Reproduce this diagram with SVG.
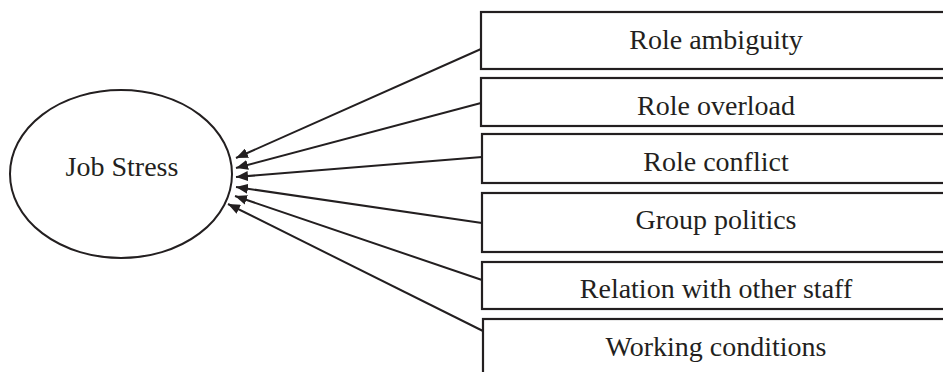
<svg xmlns="http://www.w3.org/2000/svg" width="943" height="372" viewBox="0 0 943 372">
<style>
.box{fill:#fff;stroke:#231f20;stroke-width:2.2}
.lbl{font-family:"Liberation Serif","Times New Roman",serif;font-size:28px;fill:#231f20;text-anchor:middle}
.con{stroke:#231f20;stroke-width:2;fill:none;marker-end:url(#ah)}
</style>
<defs>
<marker id="ah" viewBox="0 0 12 10" refX="12" refY="5" markerWidth="12" markerHeight="10" markerUnits="userSpaceOnUse" orient="auto">
<path d="M0,0 L12,5 L0,10 Z" fill="#231f20"/>
</marker>
</defs>
<rect width="943" height="372" fill="#fff"/>
<g id="job-stress">
<ellipse cx="121" cy="174" rx="111" ry="84" fill="#fff" stroke="#231f20" stroke-width="2"/>
<text class="lbl" x="122" y="176">Job Stress</text>
</g>
<g id="role-ambiguity">
<rect class="box" x="481" y="12" width="480" height="57"/>
<text class="lbl" x="716" y="49">Role ambiguity</text>
</g>
<g id="role-overload">
<rect class="box" x="481" y="78" width="480" height="48"/>
<text class="lbl" x="716" y="115">Role overload</text>
</g>
<g id="role-conflict">
<rect class="box" x="482" y="134" width="480" height="49"/>
<text class="lbl" x="716" y="171">Role conflict</text>
</g>
<g id="group-politics">
<rect class="box" x="482" y="193" width="480" height="59"/>
<text class="lbl" x="716" y="229">Group politics</text>
</g>
<g id="relation-staff">
<rect class="box" x="482" y="262" width="480" height="47"/>
<text class="lbl" x="716" y="298">Relation with other staff</text>
</g>
<g id="working-conditions">
<rect class="box" x="483" y="319" width="480" height="70"/>
<text class="lbl" x="716" y="356">Working conditions</text>
</g>
<g id="connectors">
<line class="con" x1="481" y1="49" x2="236" y2="158"/>
<line class="con" x1="481" y1="103" x2="236" y2="168"/>
<line class="con" x1="482" y1="157" x2="236" y2="177"/>
<line class="con" x1="482" y1="223" x2="236" y2="187"/>
<line class="con" x1="482" y1="280" x2="235" y2="196"/>
<line class="con" x1="483" y1="331" x2="228" y2="204"/>
</g>
</svg>
